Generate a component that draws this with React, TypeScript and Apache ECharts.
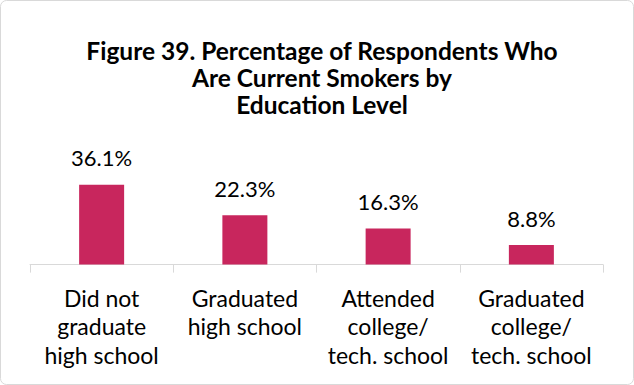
import React, { useEffect, useRef } from "react";
import * as echarts from "echarts";

const categories = [
  "Did not\ngraduate\nhigh school",
  "Graduated\nhigh school",
  "Attended\ncollege/\ntech. school",
  "Graduated\ncollege/\ntech. school",
];
const values = [36.1, 22.3, 16.3, 8.8];
const titleText = "Figure 39. Percentage of Respondents Who\nAre Current Smokers by\nEducation Level";

export default function App() {
  const ref = useRef<HTMLDivElement>(null);
  useEffect(() => {
    const chart = echarts.init(ref.current!, null, { renderer: "svg" });
    const font = "Lato";
    chart.setOption({
      animation: false,
      backgroundColor: "#ffffff",
      graphic: [
        {
          type: "rect",
          shape: { x: 0.5, y: 0.5, width: 633, height: 384, r: 6 },
          style: { fill: "none", stroke: "#d9d9d9", lineWidth: 1 },
          silent: true,
        },
      ],
      title: {
        text: titleText,
        left: 317,
        top: 32,
        textAlign: "center",
        textStyle: {
          fontFamily: font,
          fontWeight: "bold",
          fontSize: 24.5,
          lineHeight: 27,
          color: "#000",
        },
      },
      grid: { left: 30, right: 31, top: 176, bottom: 120.4, containLabel: false },
      xAxis: {
        type: "category",
        data: categories,
        boundaryGap: true,
        axisLine: { show: true, lineStyle: { color: "#d9d9d9", width: 1 } },
        axisTick: { show: true, length: 8, lineStyle: { color: "#d9d9d9" } },
        axisLabel: {
          interval: 0,
          margin: 19,
          fontFamily: font,
          fontSize: 23,
          lineHeight: 28.5,
          color: "#000",
        },
      },
      yAxis: {
        type: "value",
        min: 0,
        max: 40,
        show: false,
        splitLine: { show: false },
      },
      series: [
        {
          type: "bar",
          data: values,
          barWidth: 45,
          itemStyle: { color: "#C8265D" },
          label: {
            show: true,
            position: "top",
            distance: 15,
            formatter: (p: any) => p.value.toFixed(1) + "%",
            fontFamily: font,
            fontSize: 22,
            lineHeight: 24,
            color: "#000",
          },
        },
      ],
    });
    return () => chart.dispose();
  }, []);
  return <div ref={ref} style={{ width: 634, height: 385, position: "absolute", left: 0, top: 0 }} />;
}
